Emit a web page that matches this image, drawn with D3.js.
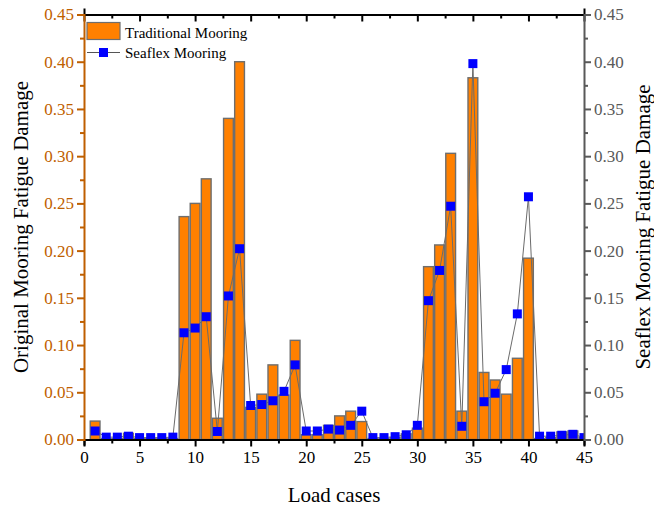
<!DOCTYPE html>
<html>
<head>
<meta charset="utf-8">
<script src="https://cdn.jsdelivr.net/npm/d3@7"></script>
<style>
  body { margin: 0; background: #fff; }
  svg { display: block; }
  svg text { font-family: "Liberation Serif", "Times New Roman", serif !important; }
</style>
</head>
<body>
<svg id="chart" width="654" height="510"></svg>
<script>
// Load case numbers 1..45
const loadCases = [1,2,3,4,5,6,7,8,9,10,11,12,13,14,15,16,17,18,19,20,21,22,23,24,25,26,27,28,29,30,31,32,33,34,35,36,37,38,39,40,41,42,43,44,45];

// Fatigue damage, traditional mooring (left axis)
const traditional = [0.0195,0.001,0.001,0.0065,0.001,0.001,0.001,0.001,0.236,0.250,0.276,0.0225,0.340,0.400,0.034,0.048,0.079,0.047,0.105,0.005,0.005,0.015,0.025,0.030,0.019,0.001,0.001,0.002,0.006,0.012,0.183,0.206,0.303,0.030,0.383,0.071,0.063,0.048,0.086,0.192,0.001,0.002,0.008,0.009,0.002];

// Fatigue damage, Seaflex mooring (right axis)
const seaflex = [0.009,0.0025,0.0025,0.0035,0.002,0.002,0.002,0.0025,0.113,0.118,0.130,0.0085,0.152,0.202,0.036,0.037,0.041,0.051,0.079,0.009,0.009,0.011,0.010,0.015,0.030,0.002,0.002,0.003,0.005,0.015,0.147,0.179,0.247,0.014,0.398,0.040,0.049,0.074,0.133,0.257,0.0035,0.0035,0.0045,0.0055,0.002];

const xTicks = [0,5,10,15,20,25,30,35,40,45];
const yTicks = [0,0.05,0.10,0.15,0.20,0.25,0.30,0.35,0.40,0.45];

const seriesNames = ["Traditional Mooring", "Seaflex Mooring"];
const leftColor = "#bf5f00";
const rightColor = "#595959";
const serif = "'Liberation Serif', 'Times New Roman', serif";

const margin = { left: 84, right: 70, top: 14.5, bottom: 70.5 };
const W = 654, H = 510;
const svg = d3.select("#chart");

const x = d3.scaleLinear().domain([0, 45]).range([margin.left, W - margin.right]);
const yL = d3.scaleLinear().domain([0, 0.45]).range([H - margin.bottom, margin.top]);
const yR = d3.scaleLinear().domain([0, 0.45]).range([H - margin.bottom, margin.top]);

svg.append("defs").append("clipPath").attr("id", "plot")
  .append("rect")
  .attr("x", x(0)).attr("y", yL(0.45))
  .attr("width", x(45) - x(0)).attr("height", yL(0) - yL(0.45));

const plot = svg.append("g").attr("clip-path", "url(#plot)");

// Bars: traditional mooring
const unit = x(1) - x(0);
const bw = unit * 0.88;
plot.append("g").selectAll("rect").data(loadCases).join("rect")
  .attr("x", (d) => x(d) - bw / 2)
  .attr("y", (d, i) => yL(traditional[i]))
  .attr("width", bw)
  .attr("height", (d, i) => yL(0) - yL(traditional[i]))
  .attr("fill", "#ff8000")
  .attr("stroke", "#6e6e6e")
  .attr("stroke-width", 1.4);

// Line + square markers: Seaflex mooring
const line = d3.line().x((d) => x(d)).y((d, i) => yR(seaflex[i]));
plot.append("path").datum(loadCases)
  .attr("d", line)
  .attr("fill", "none")
  .attr("stroke", "#6b6b6b")
  .attr("stroke-width", 1);

const ms = 9;
plot.append("g").selectAll("rect").data(loadCases).join("rect")
  .attr("x", (d) => x(d) - ms / 2)
  .attr("y", (d, i) => yR(seaflex[i]) - ms / 2)
  .attr("width", ms).attr("height", ms)
  .attr("fill", "#0000ff");

// Axes
const fs = "17px";
const bottomAxis = d3.axisBottom(x).tickValues(d3.range(0, 45.1, 2.5))
  .tickSize(6).tickFormat((d) => (xTicks.includes(d) ? d : ""));
const gB = svg.append("g").attr("transform", `translate(0,${yL(0)})`).call(bottomAxis);
gB.attr("font-family", null);
gB.select(".domain").attr("stroke", "#000").attr("stroke-width", 2);
gB.selectAll(".tick line").attr("stroke", "#000").attr("stroke-width", 2)
  .attr("y2", (d) => (xTicks.includes(d) ? 7 : 4));
gB.selectAll(".tick text").style("font-size", fs).attr("fill", "#000")
  .style("font-family", serif).attr("y", 11);

const topAxis = d3.axisTop(x).tickValues(d3.range(0, 45.1, 2.5)).tickFormat("");
const gT = svg.append("g").attr("transform", `translate(0,${yL(0.45)})`).call(topAxis);
gT.select(".domain").attr("stroke", "#000").attr("stroke-width", 2);
gT.selectAll(".tick line").attr("stroke", "#000").attr("stroke-width", 2)
  .attr("y2", (d) => (xTicks.includes(d) ? 7 : 4));

const isMajor = (d) => yTicks.some((t) => Math.abs(t - d) < 1e-9);
const leftAxis = d3.axisLeft(yL).tickValues(d3.range(0, 0.4501, 0.025))
  .tickSize(6).tickFormat((d) => (isMajor(d) ? d3.format(".2f")(d) : ""));
const gL = svg.append("g").attr("transform", `translate(${x(0)},0)`).call(leftAxis);
gL.attr("font-family", null);
gL.select(".domain").attr("stroke", leftColor).attr("stroke-width", 2);
gL.selectAll(".tick line").attr("stroke", leftColor).attr("stroke-width", 2)
  .attr("x2", (d) => (isMajor(d) ? -7 : -4));
gL.selectAll(".tick text").style("font-size", fs).attr("fill", leftColor)
  .style("font-family", serif).attr("x", -10);

const rightAxis = d3.axisRight(yR).tickValues(d3.range(0, 0.4501, 0.025))
  .tickSize(6).tickFormat((d) => (isMajor(d) ? d3.format(".2f")(d) : ""));
const gR = svg.append("g").attr("transform", `translate(${x(45)},0)`).call(rightAxis);
gR.attr("font-family", null);
gR.select(".domain").attr("stroke", rightColor).attr("stroke-width", 2);
gR.selectAll(".tick line").attr("stroke", rightColor).attr("stroke-width", 2)
  .attr("x2", (d) => (isMajor(d) ? 7 : 4));
gR.selectAll(".tick text").style("font-size", fs).attr("fill", rightColor)
  .style("font-family", serif).attr("x", 10);

// Axis titles
svg.append("text").attr("x", (x(0) + x(45)) / 2).attr("y", 502)
  .attr("text-anchor", "middle").attr("font-size", "21px").attr("fill", "#000")
  .text("Load cases");
svg.append("text").attr("transform", `translate(28,${(yL(0) + yL(0.45)) / 2}) rotate(-90)`)
  .attr("text-anchor", "middle").attr("font-size", "21px").attr("fill", "#000")
  .text("Original Mooring Fatigue Damage");
svg.append("text").attr("transform", `translate(650,${(yL(0) + yL(0.45)) / 2}) rotate(-90)`)
  .attr("text-anchor", "middle").attr("font-size", "21px").attr("fill", "#000")
  .text("Seaflex Mooring Fatigue Damage");

// Legend
const lg = svg.append("g").attr("transform", `translate(${x(0)},${yL(0.45)})`);
lg.append("rect").attr("x", 3).attr("y", 8).attr("width", 33).attr("height", 17)
  .attr("fill", "#ff8000").attr("stroke", "#6e6e6e").attr("stroke-width", 1.2);
lg.append("text").attr("x", 41).attr("y", 23).attr("font-size", "15px").text(seriesNames[0]);
lg.append("line").attr("x1", 3).attr("x2", 36).attr("y1", 38).attr("y2", 38)
  .attr("stroke", "#555").attr("stroke-width", 1);
lg.append("rect").attr("x", 15).attr("y", 33.5).attr("width", 9).attr("height", 9).attr("fill", "#0000ff");
lg.append("text").attr("x", 41).attr("y", 43).attr("font-size", "15px").text(seriesNames[1]);
</script>
</body>
</html>
